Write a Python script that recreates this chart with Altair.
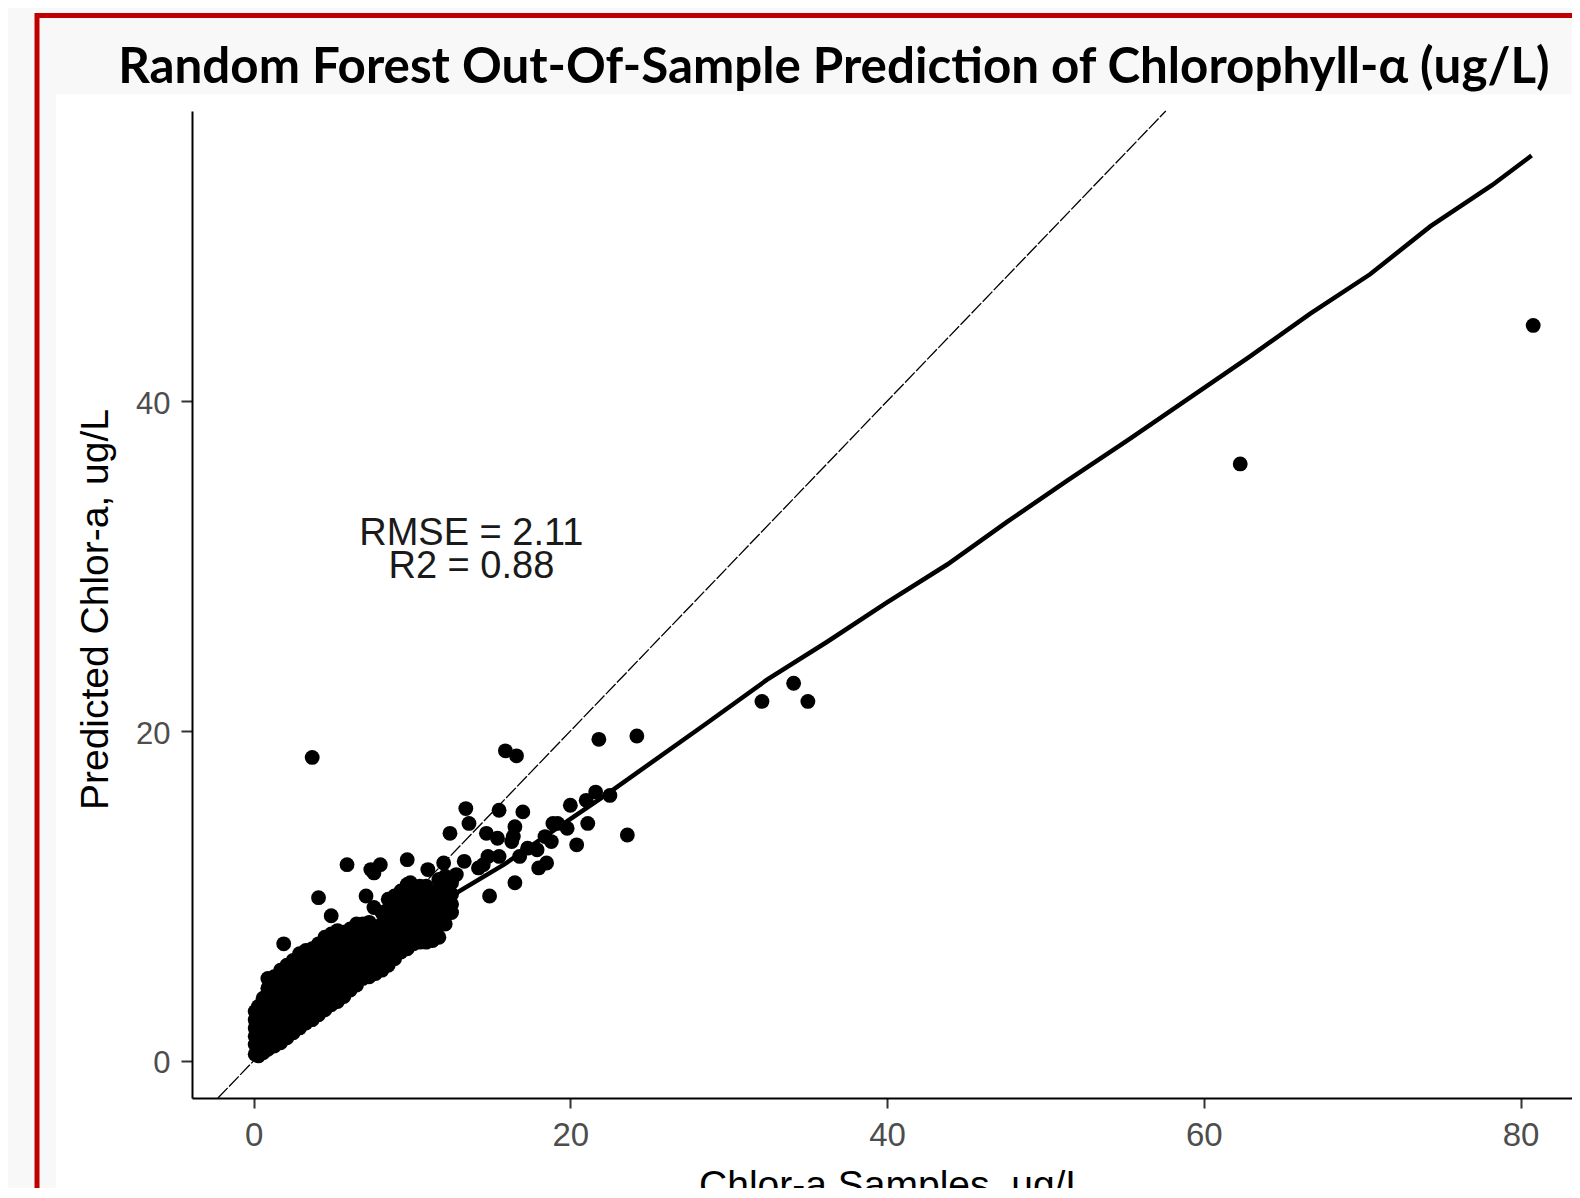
import altair as alt
import pandas as pd

TITLE = "Random Forest Out-Of-Sample Prediction of Chlorophyll-\u03b1 (ug/L)"
X_TITLE = "Chlor-a Samples, ug/L"
Y_TITLE = "Predicted Chlor-a, ug/L"
X_TICKS = [0, 20, 40, 60, 80]
Y_TICKS = [0, 20, 40]
STAT_LABELS = ["RMSE = 2.11", "R2 = 0.88"]
STAT_X = [13.75, 13.75]
STAT_Y = [31.3, 29.3]

# dense cloud of low-concentration samples (column x -> predicted values)
col_x = [0.1, 0.3, 0.6, 0.9, 1.3, 1.7, 2.1, 2.5, 2.9, 3.3, 3.7, 4.1, 4.5, 4.9, 5.3, 5.7,
         6.1, 6.5, 6.9, 7.3, 7.7, 8.1, 8.5, 8.9, 9.3, 9.7, 10.1, 10.5, 10.9, 11.3, 11.7, 12.1, 12.5]
col_y = [
    [0.4, 1.0, 1.5, 2.0, 2.5, 3.0],
    [0.3, 0.9, 1.4, 1.9, 2.4, 2.9, 3.3],
    [0.5, 1.2, 1.7, 2.2, 2.7, 3.2, 3.8],
    [0.7, 1.4, 1.9, 2.4, 2.9, 3.4, 3.9, 4.4, 5.0],
    [0.9, 1.6, 2.1, 2.6, 3.1, 3.6, 4.1, 4.6, 5.1],
    [1.1, 1.9, 2.4, 2.9, 3.4, 3.9, 4.4, 4.9, 5.5],
    [1.4, 2.2, 2.7, 3.2, 3.7, 4.2, 4.7, 5.2, 5.8],
    [1.7, 2.5, 3.0, 3.5, 4.0, 4.5, 5.0, 5.5, 6.1],
    [2.0, 2.8, 3.3, 3.8, 4.3, 4.8, 5.3, 5.8, 6.5],
    [2.3, 3.1, 3.6, 4.1, 4.6, 5.1, 5.6, 6.1, 6.7],
    [2.5, 3.3, 3.8, 4.3, 4.8, 5.3, 5.8, 6.3, 6.8],
    [2.8, 3.6, 4.1, 4.6, 5.1, 5.6, 6.1, 6.6, 7.1],
    [3.1, 3.9, 4.4, 4.9, 5.4, 5.9, 6.4, 6.9, 7.5],
    [3.4, 4.2, 4.7, 5.2, 5.7, 6.2, 6.7, 7.2, 7.7],
    [3.6, 4.4, 4.9, 5.4, 5.9, 6.4, 6.9, 7.4, 7.9],
    [3.9, 4.7, 5.2, 5.7, 6.2, 6.7, 7.2, 7.8],
    [4.3, 5.1, 5.6, 6.1, 6.6, 7.1, 7.6, 8.0],
    [4.6, 5.4, 5.9, 6.4, 6.9, 7.4, 7.9, 8.3],
    [5.0, 5.8, 6.3, 6.8, 7.3, 7.8, 8.3],
    [5.1, 5.9, 6.4, 6.9, 7.4, 7.9, 8.4],
    [5.3, 6.1, 6.6, 7.1, 7.6, 8.1],
    [5.5, 6.3, 6.8, 7.3, 7.8, 8.3],
    [5.8, 6.5, 7.0, 7.5, 8.0, 8.5, 9.2],
    [6.2, 6.9, 7.4, 7.9, 8.4, 8.9, 9.4, 10.0],
    [6.6, 7.3, 7.8, 8.3, 8.8, 9.3, 9.8, 10.3],
    [6.8, 7.5, 8.0, 8.5, 9.0, 9.5, 10.1, 10.7],
    [7.1, 7.8, 8.3, 8.8, 9.3, 9.8, 10.4],
    [7.2, 7.9, 8.4, 8.9, 9.4, 10.0, 10.6],
    [7.2, 7.9, 8.4, 8.9, 9.4, 10.0],
    [7.3, 8.0, 8.5, 9.0, 9.6, 10.2],
    [7.5, 8.2, 8.7, 9.2, 9.8, 10.4, 11.0],
    [8.3, 8.9, 9.4, 10.0, 10.6, 11.2],
    [9.0, 9.5, 10.1, 10.8],
]

# individually visible samples
scatter_x = [80.8, 62.3, 32.1, 34.1, 35.0, 24.2, 21.8, 3.7, 15.9, 16.6,
             23.6, 22.5, 21.6, 21.0, 21.1, 20.0, 20.4, 19.8, 18.9, 19.2,
             18.8, 18.4, 18.0, 18.5, 17.9, 17.3, 17.0, 16.5, 16.4, 16.5,
             15.5, 15.5, 15.4, 14.7, 14.9, 14.5, 14.2, 14.8, 13.6, 13.4,
             13.3, 12.4, 12.0, 11.0, 10.9, 9.7, 9.9, 8.0, 7.6, 7.4,
             7.1, 5.9, 4.1, 4.9, 1.9, 16.8, 12.3, 12.8, 8.5, 16.3,
             7.6, 8.1]
scatter_y = [44.6, 36.2, 21.8, 22.9, 21.8, 19.7, 19.5, 18.4, 18.8, 18.5,
             13.7, 16.1, 16.3, 15.8, 14.4, 15.5, 13.1, 14.1, 14.4, 14.4,
             13.3, 13.6, 11.7, 12.0, 12.8, 12.9, 15.1, 14.2, 13.6, 10.8,
             15.2, 12.4, 13.5, 13.8, 10.0, 11.9, 11.7, 12.4, 14.4, 15.3,
             12.1, 13.8, 12.0, 11.6, 10.6, 12.2, 10.8, 11.9, 11.4, 11.6,
             10.0, 11.9, 9.9, 8.8, 7.1, 12.4, 11.0, 11.3, 9.8, 13.3,
             9.3, 9.0]

# smoothed fit
smooth_x = [0.1, 4.0, 8.0, 11.0, 12.95, 15.8, 19.6, 22.2, 28.5, 32.4, 36.2, 40.0, 43.8,
            47.6, 51.4, 55.3, 59.1, 62.9, 66.7, 70.5, 74.3, 78.2, 80.7]
smooth_y = [1.2, 3.9, 6.6, 8.7, 10.27, 11.9, 14.4, 16.1, 20.4, 23.1, 25.4, 27.8, 30.1,
            32.7, 35.2, 37.7, 40.2, 42.7, 45.3, 47.7, 50.6, 53.1, 54.9]

X_DOMAIN = [-3.89, 83.25]
Y_DOMAIN = [-2.25, 57.6]
ONE_TO_ONE = [-2.25, 57.6]

rows = []
for cx, ys in zip(col_x, col_y):
    for yy in ys:
        rows.append({"sample": cx, "pred": yy})
for sx, sy in zip(scatter_x, scatter_y):
    rows.append({"sample": sx, "pred": sy})
points_df = pd.DataFrame(rows)
smooth_df = pd.DataFrame({"sample": smooth_x, "pred": smooth_y})
abline_df = pd.DataFrame({"sample": ONE_TO_ONE, "pred": ONE_TO_ONE})
stats_df = pd.DataFrame({"sample": STAT_X, "pred": STAT_Y, "label": STAT_LABELS})
one = pd.DataFrame({"k": [0]})

xscale = alt.Scale(domain=X_DOMAIN, nice=False, zero=False)
yscale = alt.Scale(domain=Y_DOMAIN, nice=False, zero=False)

FONT = "Liberation Sans"
x_axis = alt.Axis(values=X_TICKS, title=X_TITLE, grid=False, zindex=1,
                  domainColor="#000000", domainWidth=2,
                  tickColor="#333333", tickWidth=2, tickSize=10,
                  labelFont=FONT, labelFontSize=33, labelColor="#4d4d4d", labelPadding=11,
                  titleFont=FONT, titleFontSize=39, titleFontWeight="normal", titleColor="#000000",
                  titleX=700.6, titleY=99, titleBaseline="alphabetic", titleAlign="center")
y_axis = alt.Axis(values=Y_TICKS, title=Y_TITLE, grid=False, zindex=1,
                  domainColor="#000000", domainWidth=2,
                  tickColor="#333333", tickWidth=2, tickSize=11,
                  labelFont=FONT, labelFontSize=31, labelColor="#4d4d4d", labelPadding=11,
                  labelOffset=3,
                  titleFont=FONT, titleFontSize=39, titleFontWeight="normal", titleColor="#000000",
                  titleAngle=270, titleX=-85, titleY=498, titleBaseline="alphabetic",
                  titleAlign="center")

X = alt.X("sample:Q", scale=xscale, axis=x_axis)
Y = alt.Y("pred:Q", scale=yscale, axis=y_axis)

panel = alt.Chart(one).mark_rect(color="white").encode(
    x=alt.value(-136), x2=alt.value(1500), y=alt.value(-16.7), y2=alt.value(1200))
frame = alt.Chart(one).mark_rect(fill="transparent", stroke="#c00000", strokeWidth=5).encode(
    x=alt.value(-155), x2=alt.value(1600), y=alt.value(-95.5), y2=alt.value(1300))

abline = alt.Chart(abline_df).mark_line(color="black", strokeWidth=1.3, strokeDash=[14, 2]).encode(
    x=X, y=Y)
points = alt.Chart(points_df).mark_circle(size=220, color="black", opacity=1).encode(x=X, y=Y)
smooth = alt.Chart(smooth_df).mark_line(color="black", strokeWidth=4.5).encode(x=X, y=Y)
stats = alt.Chart(stats_df).mark_text(font=FONT, fontSize=38, color="#1a1a1a", align="center",
                                      baseline="alphabetic").encode(x=X, y=Y, text="label:N")
title = alt.Chart(pd.DataFrame({"t": [TITLE]})).mark_text(
    font="Lato", fontWeight="bold", fontSize=49.3, color="black", align="center",
    baseline="alphabetic").encode(x=alt.value(641.9), y=alt.value(-27.7), text="t:N")

chart = alt.layer(panel, frame, abline, points, smooth, stats, title).properties(
    width=1380, height=987,
    autosize=alt.AutoSizeParams(type="none"),
    padding={"left": 184, "top": 103, "right": 0, "bottom": 90},
    background="#f8f8f8",
).configure_view(stroke="transparent")

chart.save("out.html", embed_options={"renderer": "svg", "actions": False})
